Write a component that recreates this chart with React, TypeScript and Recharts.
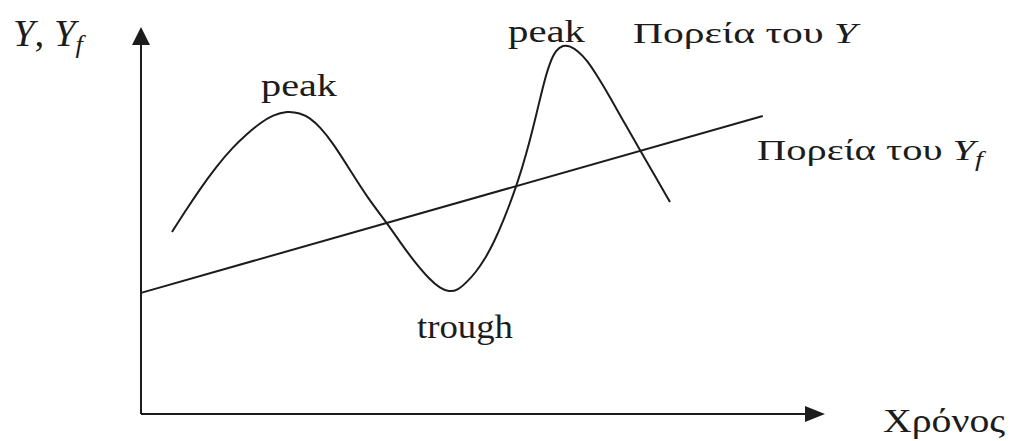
import { LineChart, Line, XAxis, YAxis, ReferenceLine, ReferenceDot } from 'recharts'

// time (x) and level (y) of the business cycle curve Y
const cycleTime = [
  4.53, 6.58, 8.63, 10.96, 13.45, 15.5, 17.4, 19.3, 21.35, 23.25, 24.71, 26.17, 28.07, 30.56, 33.04,
  35.96, 37.87, 39.77, 42.25, 43.71, 45.03, 46.35, 47.66, 48.98, 50.29, 51.61, 52.92, 54.97, 56.43,
  57.89, 58.92, 59.8, 60.67, 61.7, 62.72, 63.89, 65.2, 66.81, 68.57, 70.76, 72.95, 75.15, 77.34,
]
const cycleLevel = [
  47.03, 52.71, 58.14, 63.82, 68.99, 72.35, 75.19, 77.26, 78.29, 77.78, 76.49, 74.16, 70.03, 63.05, 56.07,
  49.35, 44.44, 39.79, 34.63, 32.56, 31.52, 32.04, 34.11, 36.69, 40.05, 44.44, 49.61, 59.17, 67.7,
  78.04, 85.79, 90.96, 94.06, 95.35, 95.09, 93.8, 91.47, 87.08, 81.91, 74.94, 68.22, 61.5, 54.78,
]

// trend line Y_f
const trendTime = [0, 90.9]
const trendLevel = [31.3, 77.0]

const cycle = cycleTime.map((t, i) => ({ t, y: cycleLevel[i] }))
const trend = trendTime.map((t, i) => ({ t, y: trendLevel[i] }))

const INK = '#1c1c1c'
const FONT = '"Liberation Serif", "Times New Roman", serif'

function Label({ x, y, size, w, children }: { x: number; y: number; size: number; w: number; children: any }) {
  return (
    <text x={x} y={y} textLength={w} lengthAdjust="spacingAndGlyphs" fontFamily={FONT} fontSize={size} fill={INK}>
      {children}
    </text>
  )
}

const arrowRight = (p: any) => (
  <polygon points={`${p.cx},${p.cy} ${p.cx - 20},${p.cy - 8} ${p.cx - 20},${p.cy + 8}`} fill={INK} />
)
const arrowUp = (p: any) => (
  <polygon points={`${p.cx},${p.cy} ${p.cx - 9},${p.cy + 18} ${p.cx + 9},${p.cy + 18}`} fill={INK} />
)

export default function App() {
  return (
    <div style={{ position: 'absolute', left: 0, top: 0, background: '#fff' }}>
      <LineChart width={1012} height={441} margin={{ top: 27, right: 187, bottom: 27, left: 141 }}>
        <XAxis dataKey="t" type="number" domain={[0, 100]} hide />
        <YAxis type="number" domain={[0, 100]} hide />
        <ReferenceLine segment={[{ x: 0, y: 0 }, { x: 97.5, y: 0 }]} stroke={INK} strokeWidth={2} />
        <ReferenceLine segment={[{ x: 0, y: 0 }, { x: 0, y: 96 }]} stroke={INK} strokeWidth={2} />
        <ReferenceDot x={100} y={0} r={0} shape={arrowRight} />
        <ReferenceDot x={0} y={100} r={0} shape={arrowUp} />
        <Line data={trend} dataKey="y" type="linear" stroke={INK} strokeWidth={2} dot={false} isAnimationActive={false} />
        <Line data={cycle} dataKey="y" type="basis" stroke={INK} strokeWidth={2} dot={false} isAnimationActive={false} />
        <Label x={13} y={46} size={38} w={70}>
          <tspan fontStyle="italic">Y</tspan>, <tspan fontStyle="italic">Y</tspan>
          <tspan fontStyle="italic" fontSize={26} dy={7}>f</tspan>
        </Label>
        <Label x={261} y={96} size={31} w={76}>peak</Label>
        <Label x={508} y={42} size={31} w={77}>peak</Label>
        <Label x={417} y={338} size={34} w={96}>trough</Label>
        <Label x={633} y={43} size={30} w={224}>
          Πορεία του <tspan fontStyle="italic">Y</tspan>
        </Label>
        <Label x={757} y={160} size={30} w={226}>
          Πορεία του <tspan fontStyle="italic">Y</tspan>
          <tspan fontStyle="italic" fontSize={21} dy={6}>f</tspan>
        </Label>
        <Label x={883} y={432} size={34} w={122}>Χρόνος</Label>
      </LineChart>
    </div>
  )
}
